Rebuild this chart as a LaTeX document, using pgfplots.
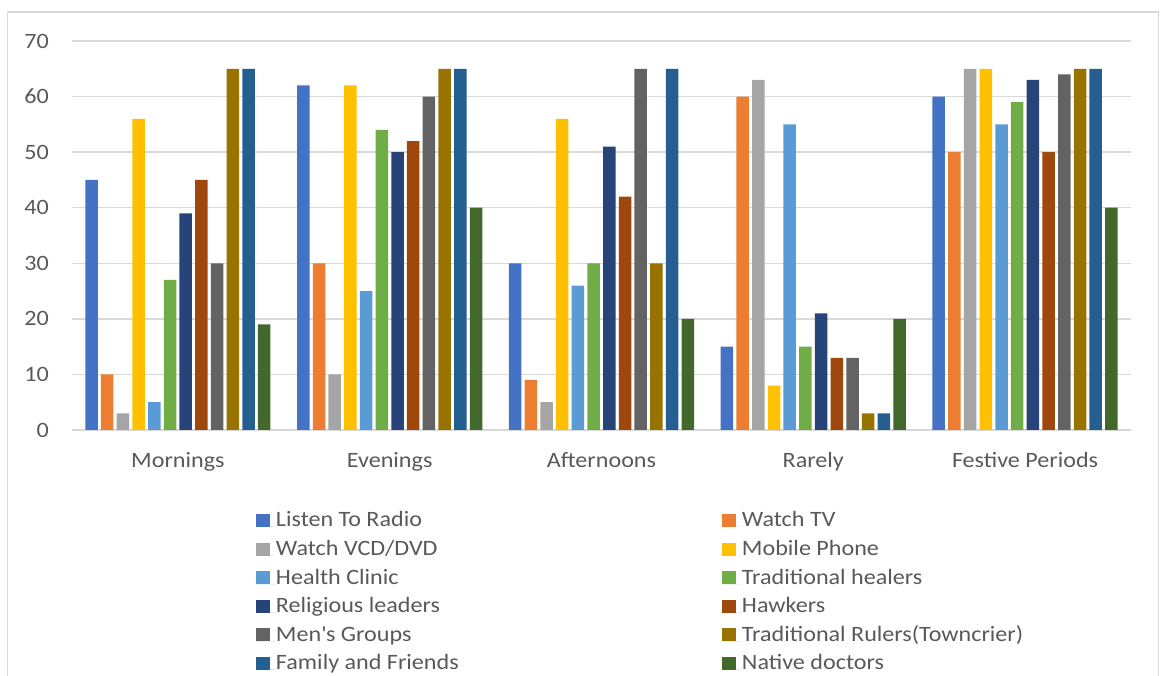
\documentclass[border=0pt]{standalone}
\usepackage{fontspec}
\setmainfont{Carlito}[FakeStretch=1.1]
\usepackage{pgfplots}
\pgfplotsset{compat=1.18}
\definecolor{c1}{HTML}{4472C4}
\definecolor{c2}{HTML}{ED7D31}
\definecolor{c3}{HTML}{A5A5A5}
\definecolor{c4}{HTML}{FFC000}
\definecolor{c5}{HTML}{5B9BD5}
\definecolor{c6}{HTML}{70AD47}
\definecolor{c7}{HTML}{264478}
\definecolor{c8}{HTML}{9E480E}
\definecolor{c9}{HTML}{636363}
\definecolor{c10}{HTML}{997300}
\definecolor{c11}{HTML}{255E91}
\definecolor{c12}{HTML}{43682B}
\definecolor{gridc}{HTML}{D9D9D9}
\definecolor{txt}{HTML}{595959}
\newcommand{\lm}[1]{\makebox[446bp][l]{#1}}
\begin{document}
\begin{tikzpicture}[font=\fontsize{22}{26}\selectfont]
\path[use as bounding box] (0,0) rectangle (1160bp,676bp);
\draw[gridc, line width=1.5bp] (7.5bp,-5bp) -- (7.5bp,664bp) -- (1158.5bp,664bp) -- (1158.5bp,-5bp);
\begin{axis}[
  at={(72bp,246bp)}, anchor=south west,
  scale only axis, width=1059bp, height=389bp,
  ybar=3.2bp, bar width=12.5bp,
  xmin=-0.5, xmax=4.5, ymin=0, ymax=70,
  xtick={0,1,2,3,4},
  xticklabels={Mornings,Evenings,Afternoons,Rarely,Festive Periods},
  ytick={0,10,...,70},
  ymajorgrids, grid style={gridc, line width=1.3bp},
  axis line style={draw=none},
  major tick length=0pt,
  /pgf/number format/assume math mode=true,
  tick label style={text=txt},
  yticklabel style={inner sep=0pt, anchor=east, xshift=-23bp},
  xticklabel style={inner sep=0pt, anchor=north, text height=15bp, text depth=4bp, yshift=-22bp},
  legend columns=2,
  legend cell align=left,
  legend image code/.code={\fill[#1] (0bp,0bp) rectangle (14bp,13bp); \path (0bp,0bp) -- (20bp,0bp);},
  legend style={draw=none, inner sep=0pt, outer sep=0pt, column sep=0pt, row sep=0pt,
    at={(axis description cs:0.17375,-0.19794)}, anchor=north west,
    nodes={inner sep=0pt, text height=20bp, text depth=8.6bp, anchor=base west, text=txt}},
]
\addplot[draw=none, fill=c1] coordinates {(0,45) (1,62) (2,30) (3,15) (4,60)};
\addplot[draw=none, fill=c2] coordinates {(0,10) (1,30) (2,9) (3,60) (4,50)};
\addplot[draw=none, fill=c3] coordinates {(0,3) (1,10) (2,5) (3,63) (4,65)};
\addplot[draw=none, fill=c4] coordinates {(0,56) (1,62) (2,56) (3,8) (4,65)};
\addplot[draw=none, fill=c5] coordinates {(0,5) (1,25) (2,26) (3,55) (4,55)};
\addplot[draw=none, fill=c6] coordinates {(0,27) (1,54) (2,30) (3,15) (4,59)};
\addplot[draw=none, fill=c7] coordinates {(0,39) (1,50) (2,51) (3,21) (4,63)};
\addplot[draw=none, fill=c8] coordinates {(0,45) (1,52) (2,42) (3,13) (4,50)};
\addplot[draw=none, fill=c9] coordinates {(0,30) (1,60) (2,65) (3,13) (4,64)};
\addplot[draw=none, fill=c10] coordinates {(0,65) (1,65) (2,30) (3,3) (4,65)};
\addplot[draw=none, fill=c11] coordinates {(0,65) (1,65) (2,65) (3,3) (4,65)};
\addplot[draw=none, fill=c12] coordinates {(0,19) (1,40) (2,20) (3,20) (4,40)};
\legend{\lm{Listen To Radio}, Watch TV, \lm{Watch VCD/DVD}, Mobile Phone,
  \lm{Health Clinic}, Traditional healers, \lm{Religious leaders}, Hawkers,
  \lm{Men\textquotesingle s Groups}, Traditional Rulers(Towncrier), \lm{Family and Friends}, Native doctors}
\end{axis}
\end{tikzpicture}
\end{document}
